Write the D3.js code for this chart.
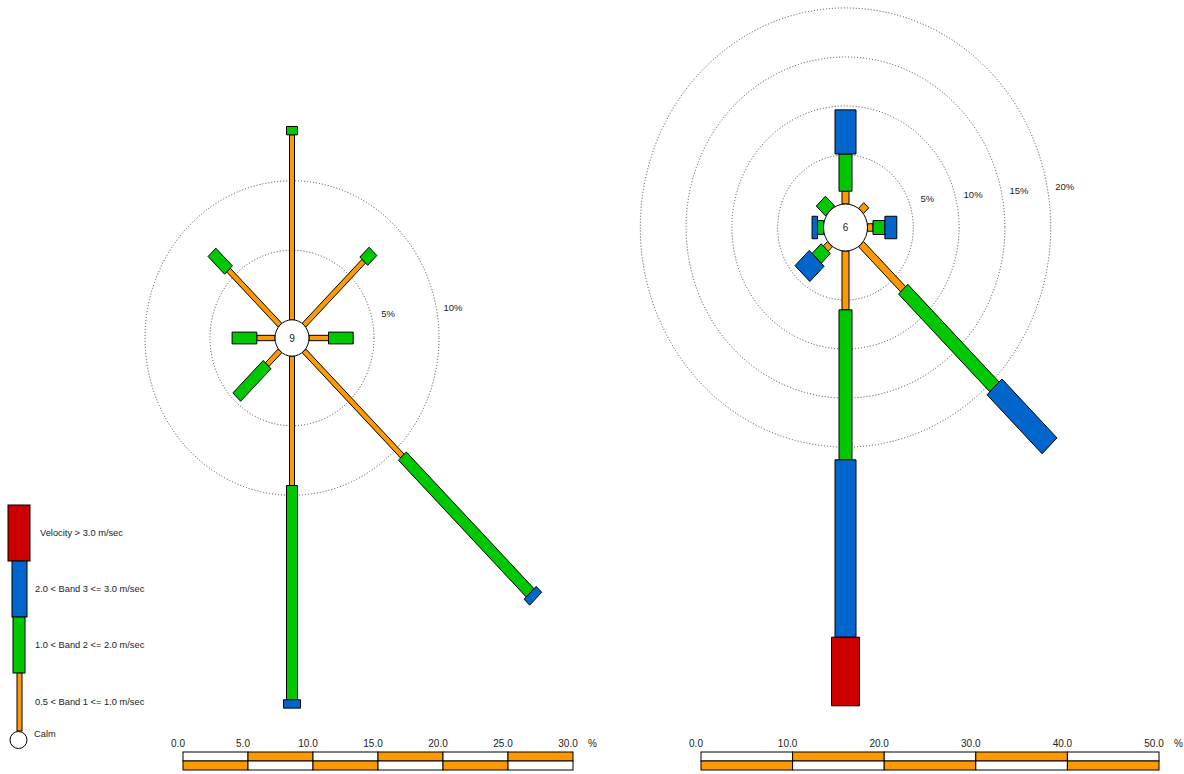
<!DOCTYPE html>
<html>
<head>
<meta charset="utf-8">
<script src="https://cdn.jsdelivr.net/npm/d3@7"></script>
<style>
  html, body { margin: 0; padding: 0; background: #fff; }
  svg { display: block; font-family: "Liberation Sans", Arial, sans-serif; }
</style>
</head>
<body>
<svg id="chart" width="1184" height="774"></svg>
<script>
// Wind directions, clockwise from north
const directions = ["N", "NE", "E", "SE", "S", "SW", "W", "NW"];

// Station A: frequency (%) per speed band
const band1A = [13.3, 6.5, 1.5, 10.7, 9.3, 1.4, 1.4, 5.6];
const band2A = [0.6, 1.0, 1.9, 13.9, 15.4, 3.3, 1.9, 1.8];
const band3A = [0, 0, 0, 0.6, 0.6, 0, 0, 0];
const band4A = [0, 0, 0, 0, 0, 0, 0, 0];
const calmA = "9";
const ringsA = [5, 10];
const scaleTicksA = [0, 5, 10, 15, 20, 25, 30];

// Station B: frequency (%) per speed band
const band1B = [1.3, 0.8, 0.6, 6.5, 6.0, 0.65, 0, 0];
const band2B = [3.8, 0, 1.3, 14.1, 15.3, 1.4, 0.65, 1.4];
const band3B = [4.5, 0, 1.3, 8.5, 18.1, 2.2, 0.6, 0];
const band4B = [0, 0, 0, 0, 7.0, 0, 0, 0];
const calmB = "6";
const ringsB = [5, 10, 15, 20];
const scaleTicksB = [0, 10, 20, 30, 40, 50];

const bandLabels = [
  "0.5 < Band 1 <= 1.0 m/sec",
  "1.0 < Band 2 <= 2.0 m/sec",
  "2.0 < Band 3 <= 3.0 m/sec",
  "Velocity > 3.0 m/sec"
];
const bandColors = ["#ff9900", "#00c800", "#0066cc", "#cc0000"];

const svg = d3.select("#chart");
const STRETCH = 1.07;

function drawRose(opt) {
  const bands = opt.bands;
  const maxPct = opt.scaleTicks[opt.scaleTicks.length - 1];
  // radius: calm circle edge plus pixels per percent
  const r = d3.scaleLinear().domain([0, maxPct]).range([opt.calmR, opt.calmR + opt.pxPerPct * maxPct]);
  const angle = d3.scalePoint().domain(directions).range([0, 315]);

  const g = svg.append("g")
    .attr("transform", `translate(${opt.cx},${opt.cy}) scale(1,${STRETCH})`);

  // dotted frequency rings
  g.selectAll("circle.ring").data(opt.rings).join("circle")
    .attr("class", "ring")
    .attr("r", d => r(d))
    .attr("fill", "none")
    .attr("stroke", "#444")
    .attr("stroke-width", 1)
    .attr("stroke-dasharray", "1,2")
    .attr("vector-effect", "non-scaling-stroke");

  // stacked petals
  directions.forEach((dir, i) => {
    const pg = g.append("g").attr("transform", `rotate(${angle(dir)})`);
    let start = 0;
    const segs = bands.map((b, k) => {
      const s = { k, from: start, to: start + b[i] };
      start += b[i];
      return s;
    }).filter(s => s.to > s.from);
    pg.selectAll("rect").data(segs).join("rect")
      .attr("x", s => -opt.widths[s.k] / 2)
      .attr("width", s => opt.widths[s.k])
      .attr("y", s => -r(s.to))
      .attr("height", s => r(s.to) - r(s.from))
      .attr("fill", s => bandColors[s.k])
      .attr("stroke", "#000")
      .attr("stroke-width", 1)
      .attr("vector-effect", "non-scaling-stroke");
  });

  // calm circle
  g.append("circle")
    .attr("r", opt.calmR)
    .attr("fill", "#fff")
    .attr("stroke", "#000")
    .attr("stroke-width", 1)
    .attr("vector-effect", "non-scaling-stroke");

  svg.append("text")
    .attr("x", opt.cx).attr("y", opt.cy + 3.5)
    .attr("text-anchor", "middle")
    .attr("font-size", 10)
    .attr("fill", "#222")
    .text(opt.calm);

  // ring labels
  svg.selectAll(null).data(opt.rings).join("text")
    .attr("x", d => opt.cx + r(d) + 14)
    .attr("y", d => opt.cy - opt.calmR - 0.09 * r(d) + 3)
    .attr("text-anchor", "middle")
    .attr("font-size", 9.5)
    .attr("fill", "#222")
    .text(d => d + "%");

  // scale bar
  const sx = d3.scaleLinear().domain([0, maxPct]).range([opt.barX, opt.barX + opt.pxPerPct * maxPct]);
  const steps = d3.pairs(opt.scaleTicks);
  const bar = svg.append("g");
  [0, 1].forEach(row => {
    bar.selectAll(null).data(steps).join("rect")
      .attr("x", d => sx(d[0]))
      .attr("width", d => sx(d[1]) - sx(d[0]))
      .attr("y", 752 + row * 9)
      .attr("height", 9)
      .attr("fill", (d, j) => ((j + row) % 2 === 1) ? "#ff9900" : "#fff")
      .attr("stroke", "#000")
      .attr("stroke-width", 1);
  });
  bar.selectAll(null).data(opt.scaleTicks).join("text")
    .attr("x", d => sx(d) - 5)
    .attr("y", 747)
    .attr("text-anchor", "middle")
    .attr("font-size", 10)
    .attr("fill", "#222")
    .text(d => d3.format(".1f")(d));
  bar.append("text")
    .attr("x", sx(maxPct) + 15).attr("y", 747)
    .attr("font-size", 10)
    .attr("fill", "#222")
    .text("%");
}

drawRose({
  cx: 292, cy: 338, calmR: 17, pxPerPct: 13,
  bands: [band1A, band2A, band3A, band4A],
  widths: [5, 11, 17, 24],
  rings: ringsA, calm: calmA, scaleTicks: scaleTicksA, barX: 183
});

drawRose({
  cx: 845.5, cy: 227.5, calmR: 22, pxPerPct: 9.16,
  bands: [band1B, band2B, band3B, band4B],
  widths: [7, 13, 21, 28],
  rings: ringsB, calm: calmB, scaleTicks: scaleTicksB, barX: 701
});

// legend
const legend = svg.append("g");
const legendItems = [
  { k: 3, x: 8, w: 22, y0: 505, y1: 561 },
  { k: 2, x: 12, w: 15, y0: 561, y1: 617 },
  { k: 1, x: 13, w: 12, y0: 617, y1: 673 },
  { k: 0, x: 17, w: 5, y0: 673, y1: 731 }
];
legend.selectAll("rect").data(legendItems).join("rect")
  .attr("x", d => d.x).attr("width", d => d.w)
  .attr("y", d => d.y0).attr("height", d => d.y1 - d.y0)
  .attr("fill", d => bandColors[d.k])
  .attr("stroke", "#000").attr("stroke-width", 1);
legend.append("circle")
  .attr("cx", 18.5).attr("cy", 740).attr("r", 8.5)
  .attr("fill", "#fff").attr("stroke", "#000").attr("stroke-width", 1);
legend.selectAll("text").data(legendItems).join("text")
  .attr("x", d => d.k === 3 ? 40 : 35)
  .attr("y", d => (d.y0 + d.y1) / 2 + 3)
  .attr("font-size", 9.3)
  .attr("fill", "#222")
  .text(d => bandLabels[d.k]);
legend.append("text")
  .attr("x", 34).attr("y", 737)
  .attr("font-size", 9.3).attr("fill", "#222")
  .text("Calm");
</script>
</body>
</html>
